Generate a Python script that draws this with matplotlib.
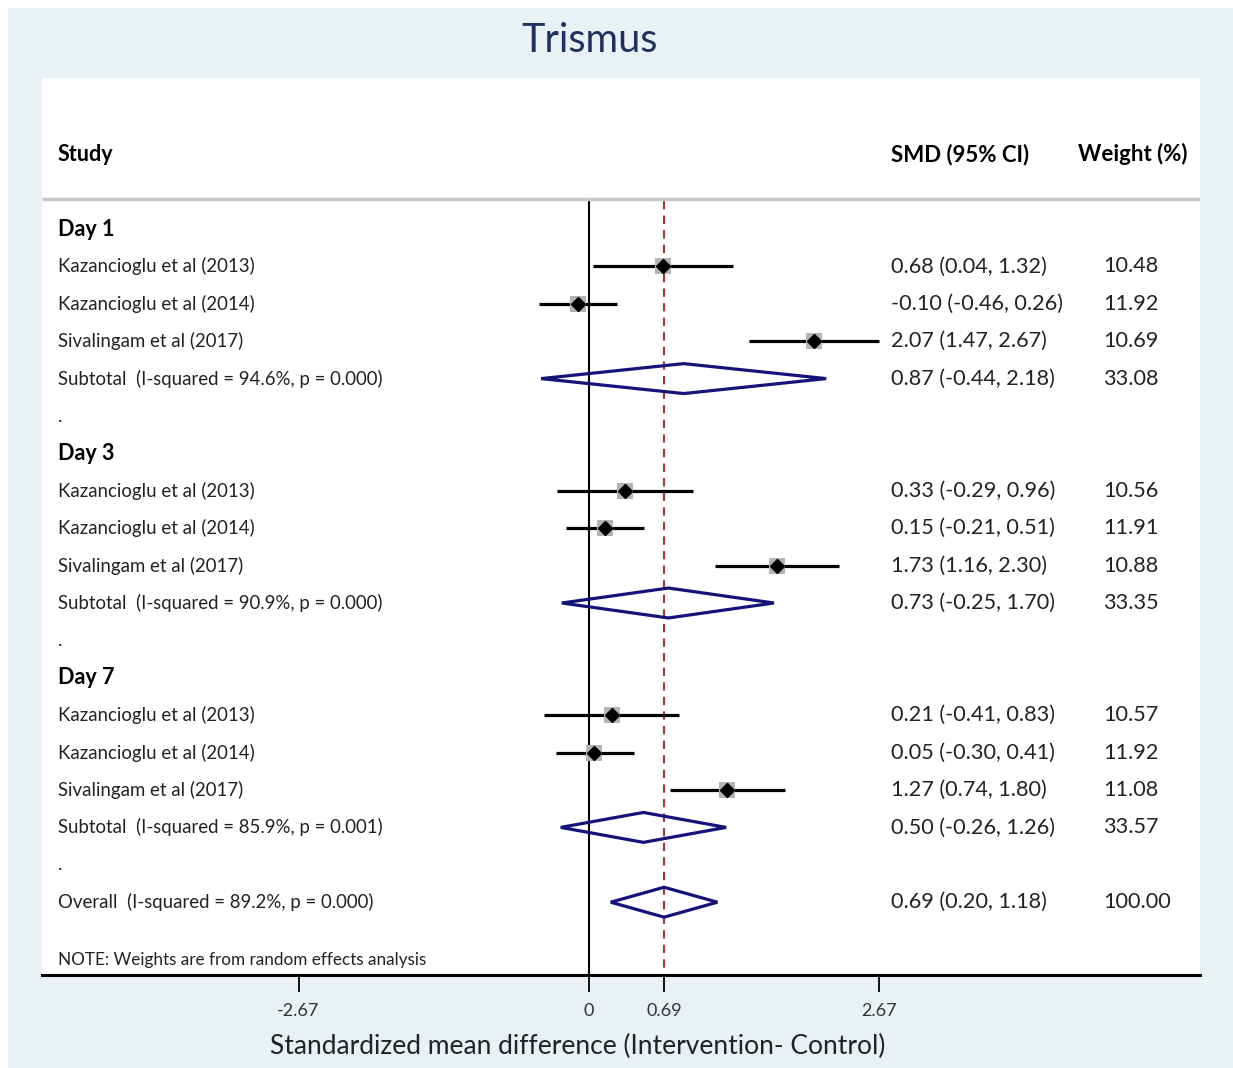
import matplotlib
matplotlib.use("Agg")
import matplotlib.pyplot as plt
from matplotlib.patches import Polygon, Rectangle
import matplotlib.transforms as mtransforms

plt.rcParams['font.family'] = ['Lato', 'DejaVu Sans']

# ---------------- data ----------------
groups = ["Day 1", "Day 3", "Day 7"]
studies = ["Kazancioglu et al (2013)", "Kazancioglu et al (2014)", "Sivalingam et al (2017)"]

day1_est = [0.68, -0.10, 2.07]
day1_lo = [0.04, -0.46, 1.47]
day1_hi = [1.32, 0.26, 2.67]
day1_w = [10.48, 11.92, 10.69]

day3_est = [0.33, 0.15, 1.73]
day3_lo = [-0.29, -0.21, 1.16]
day3_hi = [0.96, 0.51, 2.30]
day3_w = [10.56, 11.91, 10.88]

day7_est = [0.21, 0.05, 1.27]
day7_lo = [-0.41, -0.30, 0.74]
day7_hi = [0.83, 0.41, 1.80]
day7_w = [10.57, 11.92, 11.08]

sub_est = [0.87, 0.73, 0.50]
sub_lo = [-0.44, -0.25, -0.26]
sub_hi = [2.18, 1.70, 1.26]
sub_w = [33.08, 33.35, 33.57]
sub_i2 = ["94.6%", "90.9%", "85.9%"]
sub_p = ["0.000", "0.000", "0.001"]

overall_est = 0.69
overall_lo = 0.20
overall_hi = 1.18
overall_w = 100.00
overall_i2 = "89.2%"
overall_p = "0.000"

xticks = [-2.67, 0, 0.69, 2.67]
xticklabels = ["-2.67", "0", "0.69", "2.67"]

# ---------------- layout ----------------
W, H = 1233, 1068
fig = plt.figure(figsize=(W / 100, H / 100), dpi=100, facecolor="white")
bg = "#e9f1f4"
fig.patches.append(Rectangle((8 / W, 0), 1 - 8 / W, 1 - 8 / H, transform=fig.transFigure,
                             facecolor=bg, edgecolor="none", zorder=-10))

ax_l, ax_r, ax_t, ax_b = 42, 1200, 78, 975
ax = fig.add_axes([ax_l / W, 1 - ax_b / H, (ax_r - ax_l) / W, (ax_b - ax_t) / H])
ax.set_facecolor("white")

x0px, scale = 589, 108.8
ax.set_xlim((ax_l - x0px) / scale, (ax_r - x0px) / scale)
row0px, rowh = 229, 37.4
ax.set_ylim((ax_b - row0px) / rowh, (ax_t - row0px) / rowh)

for s in ["top", "left", "right"]:
    ax.spines[s].set_visible(False)
ax.spines["bottom"].set_linewidth(2.2)
ax.spines["bottom"].set_color("black")
ax.set_yticks([])
ax.set_xticks(xticks)
ax.set_xticklabels(xticklabels, fontsize=13, color="#333333")
ax.tick_params(axis="x", length=12, width=1.3, pad=8, color="black")

fig.text(578 / W, 1 - 1046 / H, "Standardized mean difference (Intervention- Control)",
         fontsize=19, color="#222222", ha="center", va="center")

tx = mtransforms.blended_transform_factory(ax.transAxes, ax.transData)
col_study = (58 - ax_l) / (ax_r - ax_l)
col_smd = (891 - ax_l) / (ax_r - ax_l)
col_w = (1103 - ax_l) / (ax_r - ax_l)

fs = 13.4     # study labels
fsn = 15.6    # numeric columns
txtc = "#222222"
# header
ax.text(col_study, -2, "Study", transform=tx, fontsize=15.5, fontweight="bold", va="center")
ax.text(col_smd, -2, "SMD (95% CI)", transform=tx, fontsize=16, fontweight="bold", va="center")
ax.text((1078 - ax_l) / (ax_r - ax_l), -2, "Weight (%)", transform=tx, fontsize=16,
        fontweight="bold", va="center")
ax.plot([0, 1], [-0.8, -0.8], transform=tx, color="#c8c8c8", lw=2.5, solid_capstyle="butt")

# reference lines
ymax_line = ax.get_ylim()[0]
ax.plot([0, 0], [-0.8, ymax_line], color="black", lw=1.5, zorder=1)
ax.plot([overall_est, overall_est], [-0.75, ymax_line], color="#a83238", lw=1.5,
        dashes=(4, 3), zorder=1)

def fmt(e, l, h):
    return f"{e:.2f} ({l:.2f}, {h:.2f})"

def diamond(y, e, l, h):
    hh = 0.4
    ax.add_patch(Polygon([[l, y], [e, y - hh], [h, y], [e, y + hh]], closed=True,
                         fill=False, edgecolor="#141478", lw=2.3, zorder=3, joinstyle="miter"))

all_data = [(day1_est, day1_lo, day1_hi, day1_w),
            (day3_est, day3_lo, day3_hi, day3_w),
            (day7_est, day7_lo, day7_hi, day7_w)]

row = 0
for gi, g in enumerate(groups):
    ax.text(col_study, row, g, transform=tx, fontsize=15.5, fontweight="bold", va="center")
    row += 1
    est, lo, hi, w = all_data[gi]
    for si in range(len(studies)):
        ax.text(col_study, row, studies[si], transform=tx, fontsize=fs, va="center", color=txtc)
        ax.plot([lo[si], hi[si]], [row, row], color="black", lw=2.3, zorder=2,
                solid_capstyle="butt")
        ax.plot(est[si], row, marker="s", markersize=3.5 * w[si] ** 0.5, color="#b4b4b4",
                markeredgewidth=0, zorder=2.5)
        ax.plot(est[si], row, marker="D", markersize=7, color="black", zorder=3)
        ax.text(col_smd, row, fmt(est[si], lo[si], hi[si]), transform=tx, fontsize=fsn,
                va="center", color=txtc)
        ax.text(col_w, row, f"{w[si]:.2f}", transform=tx, fontsize=fsn, va="center",
                color=txtc)
        row += 1
    ax.text(col_study, row, f"Subtotal  (I-squared = {sub_i2[gi]}, p = {sub_p[gi]})",
            transform=tx, fontsize=fs, va="center", color=txtc)
    diamond(row, sub_est[gi], sub_lo[gi], sub_hi[gi])
    ax.text(col_smd, row, fmt(sub_est[gi], sub_lo[gi], sub_hi[gi]), transform=tx,
            fontsize=fsn, va="center", color=txtc)
    ax.text(col_w, row, f"{sub_w[gi]:.2f}", transform=tx, fontsize=fsn, va="center",
            color=txtc)
    row += 1
    ax.text(col_study, row, ".", transform=tx, fontsize=fs, va="center", color=txtc)
    row += 1

ax.text(col_study, row, f"Overall  (I-squared = {overall_i2}, p = {overall_p})",
        transform=tx, fontsize=fs, va="center", color=txtc)
diamond(row, overall_est, overall_lo, overall_hi)
ax.text(col_smd, row, fmt(overall_est, overall_lo, overall_hi), transform=tx, fontsize=fsn,
        va="center", color=txtc)
ax.text(col_w, row, f"{overall_w:.2f}", transform=tx, fontsize=fsn, va="center",
        color=txtc)
row += 1.55
ax.text(col_study, row, "NOTE: Weights are from random effects analysis", transform=tx,
        fontsize=12.3, va="center", color=txtc)

fig.text(590 / W, 1 - 41 / H, "Trismus", fontsize=28.5, color="#1f3060", ha="center",
         va="center", fontweight="normal")

fig.savefig("out.png", dpi=100, facecolor="white")
